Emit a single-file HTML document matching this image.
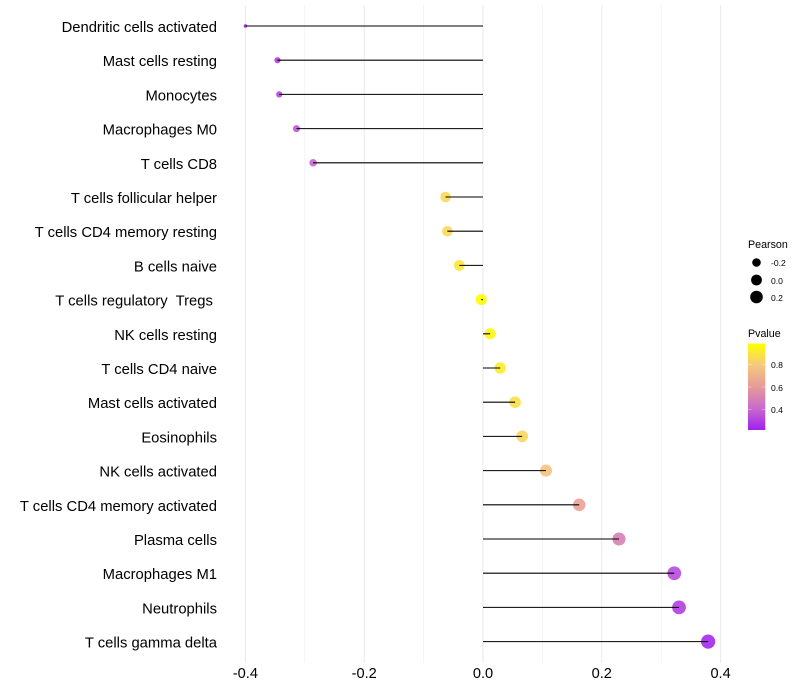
<!DOCTYPE html>
<html>
<head>
<meta charset="utf-8">
<style>
html,body{margin:0;padding:0;background:#fff}
svg{display:block;font-family:"Liberation Sans",sans-serif}
</style>
</head>
<body>
<svg id="chart" width="800" height="700" viewBox="0 0 800 700" xmlns="http://www.w3.org/2000/svg">
  <defs>
    <linearGradient id="pgrad" x1="0" y1="1" x2="0" y2="0">
      <stop offset="0" stop-color="#a020f0"/>
      <stop offset="0.25" stop-color="#c86acd"/>
      <stop offset="0.5" stop-color="#e69b98"/>
      <stop offset="0.75" stop-color="#f6c87e"/>
      <stop offset="1" stop-color="#ffff00"/>
    </linearGradient>
  </defs>
  <g id="grid"></g>
  <g id="marks"></g>
  <g id="ylabels"></g>
  <g id="xlabels"></g>

  <g>
    <text x="748" y="248" font-size="10.7" fill="#000">Pearson</text>
    <circle cx="756.5" cy="262.5" r="4.3" fill="#000"/>
    <text x="771" y="266" font-size="8.6" fill="#000">-0.2</text>
    <circle cx="756.5" cy="280" r="5.4" fill="#000"/>
    <text x="771" y="284" font-size="8.6" fill="#000">0.0</text>
    <circle cx="756.5" cy="297" r="6.3" fill="#000"/>
    <text x="771" y="301" font-size="8.6" fill="#000">0.2</text>
  </g>

  <g>
    <text x="748" y="337" font-size="10.7" fill="#000">Pvalue</text>
    <rect x="748" y="343.5" width="17.3" height="86.5" fill="url(#pgrad)"/>
    <g stroke="#fff" stroke-opacity="0.55" stroke-width="0.6">
      <line x1="748" x2="751.5" y1="364.5" y2="364.5"/><line x1="761.8" x2="765.3" y1="364.5" y2="364.5"/>
      <line x1="748" x2="751.5" y1="387" y2="387"/><line x1="761.8" x2="765.3" y1="387" y2="387"/>
      <line x1="748" x2="751.5" y1="409.3" y2="409.3"/><line x1="761.8" x2="765.3" y1="409.3" y2="409.3"/>
    </g>
    <text x="771" y="368" font-size="8.6" fill="#000">0.8</text>
    <text x="771" y="391" font-size="8.6" fill="#000">0.6</text>
    <text x="771" y="413" font-size="8.6" fill="#000">0.4</text>
  </g>
</svg>
<script>
const categories = ["Dendritic cells activated","Mast cells resting","Monocytes","Macrophages M0","T cells CD8","T cells follicular helper","T cells CD4 memory resting","B cells naive","T cells regulatory  Tregs ","NK cells resting","T cells CD4 naive","Mast cells activated","Eosinophils","NK cells activated","T cells CD4 memory activated","Plasma cells","Macrophages M1","Neutrophils","T cells gamma delta"];
const pearsonValues = [-0.4,-0.346,-0.343,-0.314,-0.286,-0.063,-0.06,-0.04,-0.003,0.012,0.029,0.054,0.066,0.106,0.162,0.229,0.322,0.33,0.379];
const pvalueValues = [0.22,0.3,0.32,0.36,0.4,0.85,0.85,0.9,0.98,0.95,0.91,0.87,0.84,0.77,0.63,0.5,0.33,0.3,0.24];
const xTicks = [-0.4,-0.2,0,0.2,0.4];
const xMinorTicks = [-0.3,-0.1,0.1,0.3];

const NS = "http://www.w3.org/2000/svg";
function xScale(v){ return 483 + v * 594; }
function yScale(i){ return 26 + i * 34.2; }
function radius(v){ return 1.7 + Math.sqrt(Math.max(0, v + 0.4)) * 6.1; }
const colorStops = [[0.22,[160,32,240]],[0.41,[200,106,205]],[0.60,[230,155,152]],[0.79,[246,200,126]],[0.98,[255,255,0]]];
function pColor(p){
  for (let k = 1; k < colorStops.length; k++) {
    if (p <= colorStops[k][0]) {
      const a = colorStops[k-1], b = colorStops[k];
      const t = Math.max(0, (p - a[0]) / (b[0] - a[0]));
      return "rgb(" + a[1].map((c, j) => Math.round(c + (b[1][j] - c) * t)).join(",") + ")";
    }
  }
  return "rgb(255,255,0)";
}
function add(parent, tag, attrs){
  const el = document.createElementNS(NS, tag);
  for (const k in attrs) el.setAttribute(k, attrs[k]);
  parent.appendChild(el);
  return el;
}
const grid = document.getElementById("grid");
const marks = document.getElementById("marks");
const ylabels = document.getElementById("ylabels");
const xlabels = document.getElementById("xlabels");

xMinorTicks.forEach(function(t){
  const el = add(grid, "line", {x1:xScale(t), x2:xScale(t), y1:5, y2:663, stroke:"#ededed", "stroke-width":0.6});
  
  
});
xTicks.forEach(function(t){
  const el = add(grid, "line", {x1:xScale(t), x2:xScale(t), y1:5, y2:663, stroke:"#ebebeb", "stroke-width":1.1});
  
  
  const lab = add(xlabels, "text", {x:xScale(t), y:678, "text-anchor":"middle", "font-size":14.6, fill:"#000"});
  
  
  lab.textContent = t === 0 ? "0.0" : t.toFixed(1);
});
categories.forEach(function(name, i){
  const lab = add(ylabels, "text", {x:217, y:yScale(i) + 6, "text-anchor":"end", "font-size":14.8, fill:"#000"});
  lab.style.whiteSpace = "pre";
  
  
  lab.textContent = name;
  const dot = add(marks, "circle", {cx:xScale(pearsonValues[i]), cy:yScale(i), r:radius(pearsonValues[i]), fill:pColor(pvalueValues[i]), "fill-opacity":0.9});
  
  
});
categories.forEach(function(name, i){
  const stem = add(marks, "line", {x1:xScale(0), x2:xScale(pearsonValues[i]), y1:yScale(i), y2:yScale(i), stroke:"#000", "stroke-width":1.07});
  
  
});
</script>
</body>
</html>
